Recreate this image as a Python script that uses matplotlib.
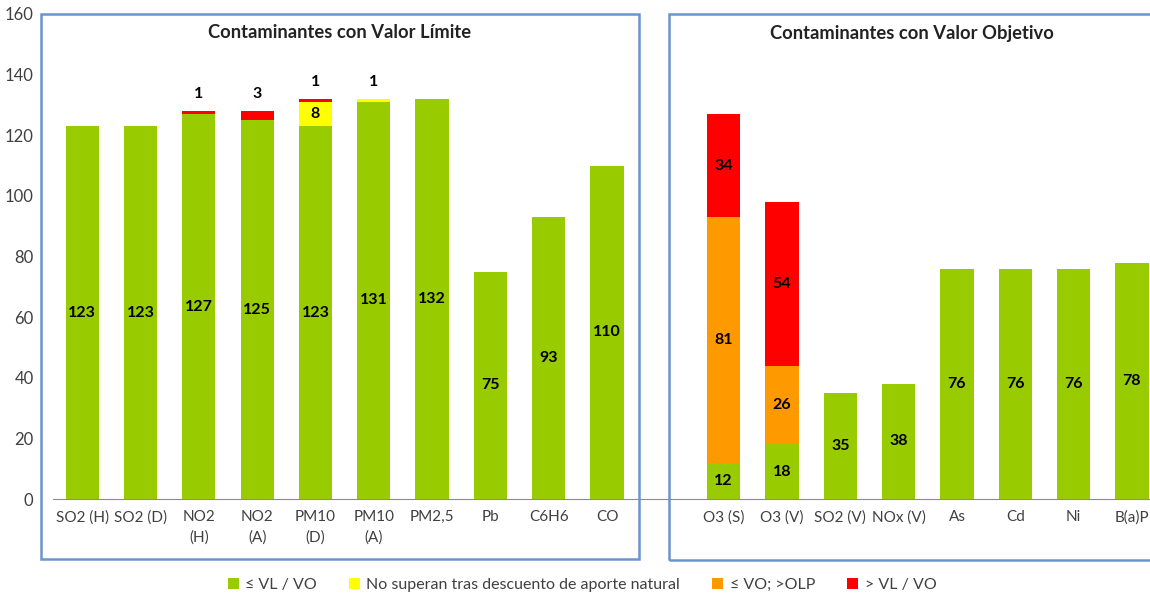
import numpy as np
import matplotlib.pyplot as plt
from matplotlib.patches import Rectangle, Patch

plt.rcParams['font.family'] = ['Lato', 'DejaVu Sans']

categories = ["SO2 (H)", "SO2 (D)", "NO2\n(H)", "NO2\n(A)", "PM10\n(D)", "PM10\n(A)",
              "PM2,5", "Pb", "C6H6", "CO", "",
              "O3 (S)", "O3 (V)", "SO2 (V)", "NOx (V)", "As", "Cd", "Ni", "B(a)P"]
green = [123, 123, 127, 125, 123, 131, 132, 75, 93, 110, 0, 12, 18, 35, 38, 76, 76, 76, 78]
yellow = [0, 0, 0, 0, 8, 1, 0, 0, 0, 0, 0, 0, 0, 0, 0, 0, 0, 0, 0]
orange = [0, 0, 0, 0, 0, 0, 0, 0, 0, 0, 0, 81, 26, 0, 0, 0, 0, 0, 0]
red = [0, 0, 1, 3, 1, 0, 0, 0, 0, 0, 0, 34, 54, 0, 0, 0, 0, 0, 0]
series_names = ["≤ VL / VO", "No superan tras descuento de aporte natural", "≤ VO; >OLP", "> VL / VO"]
colors = ["#99CC00", "#FFFF00", "#FF9900", "#FF0000"]

fig = plt.figure(figsize=(11.5, 5.95), dpi=100)
ax = fig.add_axes([0.0461, 0.1613, 0.9539, 0.8152])

x = np.arange(len(categories))
w = 0.57
bottom = np.zeros(len(categories))
for vals, col in zip([green, yellow, orange, red], colors):
    vals = np.array(vals, dtype=float)
    ax.bar(x, vals, w, bottom=bottom, color=col, zorder=2)
    for i, v in enumerate(vals):
        if v >= 5:
            ax.text(x[i], bottom[i] + v / 2, f"{int(v)}", ha="center", va="center",
                    fontsize=11.5, fontweight="bold", color="black", zorder=3)
    bottom += vals

# small segments labelled above the bar
for i in range(len(categories)):
    small = [v for v in (yellow[i], red[i]) if 0 < v < 5]
    if small:
        ax.text(x[i], bottom[i] + 5.5, f"{small[-1]}", ha="center", va="center",
                fontsize=11.5, fontweight="bold", color="black", zorder=3)

ax.set_xlim(-0.5, 18.31)
ax.set_ylim(0, 160)
ax.set_yticks(range(0, 161, 20))
ax.set_xticks(x)
ax.set_xticklabels(categories, fontsize=11, color="#404040", linespacing=1.55)
ax.tick_params(axis="y", labelsize=12, colors="#404040", length=0, pad=14)
ax.tick_params(axis="x", length=0, pad=8)
for s in ["top", "right", "left"]:
    ax.spines[s].set_visible(False)
ax.spines["bottom"].set_color("#8c8c8c")
ax.patch.set_alpha(0)

W, H = 1150, 595
box_col = "#6A95CC"
fig.patches.append(Rectangle((41 / W, 1 - 559 / H), (639 - 41) / W, (559 - 14) / H,
                             transform=fig.transFigure, fill=False, ec=box_col, lw=1.8))
fig.patches.append(Rectangle((669 / W, 1 - 560 / H), (1165 - 669) / W, (560 - 14) / H,
                             transform=fig.transFigure, fill=False, ec=box_col, lw=1.8))
fig.text(340 / W, 1 - 33 / H, "Contaminantes con Valor Límite", ha="center", va="center",
         fontsize=13.2, fontweight="bold", color="#222222")
fig.text(912 / W, 1 - 33 / H, "Contaminantes con Valor Objetivo", ha="center", va="center",
         fontsize=13.2, fontweight="bold", color="#222222")

handles = [Patch(facecolor=c, edgecolor="none") for c in colors]
fig.legend(handles, series_names, loc="center", bbox_to_anchor=(0.506, 1 - 585 / H), ncol=4,
           frameon=False, fontsize=11.5, handlelength=0.7, handleheight=0.7,
           handletextpad=0.4, columnspacing=2.0, labelcolor="#404040")

fig.savefig("out.png", dpi=100)
